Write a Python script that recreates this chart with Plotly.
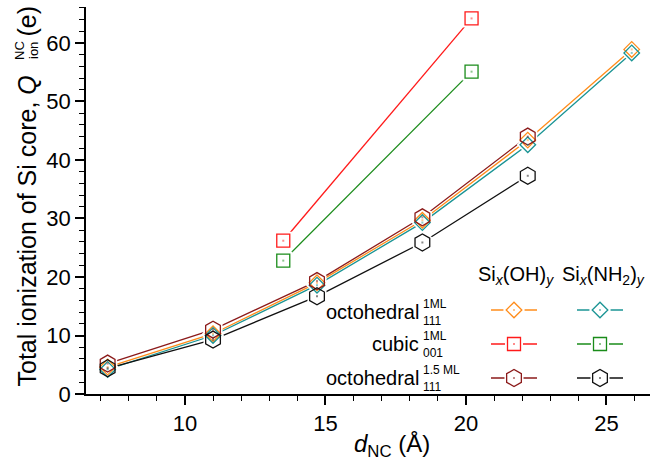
import plotly.graph_objects as go

# Nanocrystal diameter (Å) and total ionization of the Si core (e)
d_oct = [7.25, 11.0, 14.7, 18.45, 22.2, 25.9]
q_oct_oh = [4.6, 10.3, 19.0, 29.7, 43.4, 58.9]
q_oct_nh2 = [4.2, 10.0, 18.6, 29.3, 42.6, 58.3]

d_cub = [13.5, 20.2]
q_cub_oh = [26.2, 64.2]
q_cub_nh2 = [22.8, 55.1]

d_oct15 = [7.25, 11.0, 14.7, 18.45, 22.2]
q_oct15_oh = [5.2, 11.0, 19.3, 30.2, 44.0]
q_oct15_nh2 = [4.4, 9.3, 16.7, 25.9, 37.3]

x_ticks = [10, 15, 20, 25]
y_ticks = [0, 10, 20, 30, 40, 50, 60]

FONT = "Liberation Sans, Arial, sans-serif"
LW = 1.3

# (x, y, colour, symbol, size)
series = [
    (d_oct, q_oct_oh, "#FF8C1A", "diamond", 12),
    (d_oct, q_oct_nh2, "#1A9494", "diamond", 12),
    (d_cub, q_cub_oh, "#FF1A1A", "square", 13),
    (d_cub, q_cub_nh2, "#1A8C1A", "square", 13),
    (d_oct15, q_oct15_oh, "#8B1A1A", "hexagon", 17),
    (d_oct15, q_oct15_nh2, "#111111", "hexagon", 17),
]

fig = go.Figure()


def add_series(x, y, color, symbol, size, xa="x", ya="y"):
    return [
        go.Scatter(x=x, y=y, mode="lines", line=dict(color=color, width=LW),
                   xaxis=xa, yaxis=ya, showlegend=False, hoverinfo="skip"),
        go.Scatter(x=x, y=y, mode="markers", xaxis=xa, yaxis=ya,
                   marker=dict(symbol=symbol, size=size + 5, color="white",
                               line=dict(width=0)),
                   showlegend=False, hoverinfo="skip"),
        go.Scatter(x=x, y=y, mode="markers", xaxis=xa, yaxis=ya,
                   marker=dict(symbol=symbol + "-open", size=size, color=color,
                               line=dict(width=LW, color=color)),
                   showlegend=False, hoverinfo="skip"),
        go.Scatter(x=x, y=y, mode="markers", xaxis=xa, yaxis=ya,
                   marker=dict(symbol="square", size=2, color=color, opacity=0.5,
                               line=dict(width=0)),
                   showlegend=False, hoverinfo="skip"),
    ]


layers = [[], [], [], []]
for s in series:
    for i, tr in enumerate(add_series(*s)):
        layers[i].append(tr)
for layer in layers:
    for tr in layer:
        fig.add_trace(tr)

# Legend drawn on an overlay axis measured in page pixels
L, R, T, B = 86, 650, 7, 394
leg_cols = [(491, 514, 537), (577, 600, 623)]
leg_rows = [310, 344, 378]
leg_layers = [[], [], [], []]
for k, (x, y, color, symbol, size) in enumerate(series):
    row, col = k // 2, k % 2
    x0, xm, x1 = leg_cols[col]
    yy = leg_rows[row]
    for i, tr in enumerate(add_series([x0, xm, x1], [yy, yy, yy], color, symbol, size, "x2", "y2")):
        if i >= 1:
            tr.x = [xm]
            tr.y = [yy]
        leg_layers[i].append(tr)
for layer in leg_layers:
    for tr in layer:
        fig.add_trace(tr)

ann = []
# column headers
ann.append(dict(x=516, y=275, xref="x2", yref="y2", text="Si<sub><i>x</i></sub>(OH)<sub><i>y</i></sub>",
                showarrow=False, font=dict(size=20, color="black")))
ann.append(dict(x=603, y=275, xref="x2", yref="y2", text="Si<sub><i>x</i></sub>(NH<sub>2</sub>)<sub><i>y</i></sub>",
                showarrow=False, font=dict(size=20, color="black")))
# row labels with stacked super/subscripts
rows = [("octohedral", "1ML", "111", 312), ("cubic", "1ML", "001", 344), ("octohedral", "1.5 ML", "111", 378)]
for base, sup, sub, yc in rows:
    ann.append(dict(x=421, y=yc, xref="x2", yref="y2", text=base, xanchor="right", yanchor="middle",
                    showarrow=False, font=dict(size=20, color="black")))
    ann.append(dict(x=421, y=yc - 8.5, xref="x2", yref="y2", text=sup, xanchor="left", yanchor="middle",
                    showarrow=False, font=dict(size=12, color="black")))
    ann.append(dict(x=421, y=yc + 8.5, xref="x2", yref="y2", text=sub, xanchor="left", yanchor="middle",
                    showarrow=False, font=dict(size=12, color="black")))

# x-axis title
ann.append(dict(x=392, y=445, xref="paper", yref="paper", text="<i>d</i><sub>NC</sub> (Å)",
                showarrow=False, xanchor="center", yanchor="middle", font=dict(size=24, color="black")))

# y-axis title assembled from rotated pieces (positions in page pixels)
ann.append(dict(x=26, y=389, xref="paper", yref="paper", text="Total ionization of Si core, <i>Q</i>",
                textangle=-90, showarrow=False, xanchor="center", yanchor="bottom",
                font=dict(size=25, color="black")))
ann.append(dict(x=19, y=51, xref="paper", yref="paper", text="NC", textangle=-90, showarrow=False,
                xanchor="center", yanchor="middle", font=dict(size=13, color="black")))
ann.append(dict(x=33, y=51, xref="paper", yref="paper", text="ion", textangle=-90, showarrow=False,
                xanchor="center", yanchor="middle", font=dict(size=13, color="black")))
ann.append(dict(x=26, y=4, xref="paper", yref="paper", text="(e)", textangle=-90, showarrow=False,
                xanchor="center", yanchor="top", font=dict(size=25, color="black")))

# convert page-pixel positions into paper fractions
W, H = 652, 466
for a in ann:
    if a["xref"] == "paper":
        a["x"] = (a["x"] - L) / (R - L)
        a["y"] = (B - a["y"]) / (B - T)

fig.update_layout(
    width=W, height=H,
    margin=dict(l=L, r=W - R, t=T, b=H - B),
    paper_bgcolor="white", plot_bgcolor="white",
    font=dict(family=FONT, size=22, color="black"),
    showlegend=False,
    annotations=ann,
    xaxis=dict(range=[6.48, 26.55], tickvals=x_ticks, ticks="outside", ticklen=9, tickwidth=1.5,
               tickcolor="black", showline=True, linecolor="black", linewidth=1.6, showgrid=False,
               zeroline=False, tickfont=dict(size=22),
               minor=dict(dtick=1, tick0=0, ticks="outside", ticklen=5, tickwidth=1.3, tickcolor="black")),
    yaxis=dict(range=[0, 66.15], tickvals=y_ticks, ticks="outside", ticklen=9, tickwidth=1.5,
               tickcolor="black", showline=True, linecolor="black", linewidth=1.6, showgrid=False,
               zeroline=False, tickfont=dict(size=22),
               minor=dict(dtick=2, tick0=0, ticks="outside", ticklen=5, tickwidth=1.3, tickcolor="black")),
    xaxis2=dict(range=[L, R], domain=[0, 1], overlaying="x", visible=False, fixedrange=True),
    yaxis2=dict(range=[B, T], domain=[0, 1], overlaying="y", visible=False, fixedrange=True),
)

fig.write_html("out.html")
